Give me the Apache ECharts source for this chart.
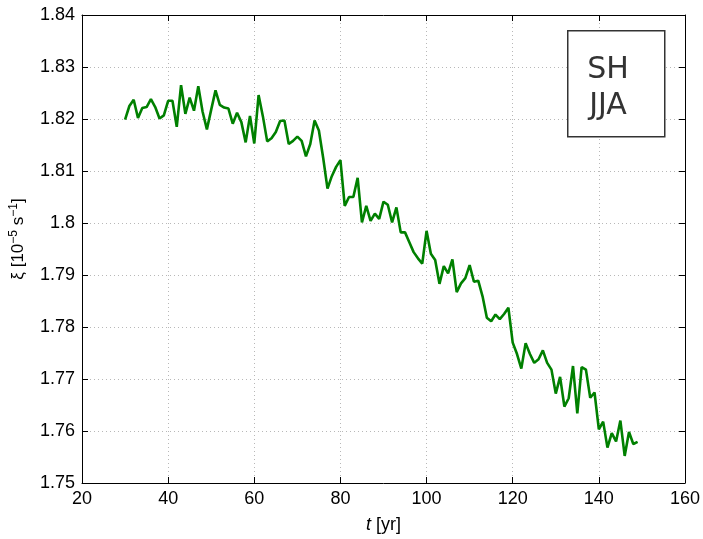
<!DOCTYPE html>
<html>
<head>
<meta charset="utf-8">
<script src="https://cdn.jsdelivr.net/npm/echarts@6/dist/echarts.min.js"></script>
<style>html,body{margin:0;padding:0;background:#fff}#c{width:703px;height:539px}</style>
</head>
<body>
<div id="c"></div>
<script>
var startYear = 30;
var xi = [
1.8199,1.8225,1.8237,1.8202,1.8221,1.8223,1.8238,1.8223,1.8201,1.8207,
1.8235,1.8235,1.8185,1.8265,1.8210,1.8241,1.8216,1.8263,1.8214,1.8180,
1.8218,1.8255,1.8227,1.8222,1.8220,1.8191,1.8212,1.8194,1.8155,1.8206,
1.8153,1.8246,1.8205,1.8157,1.8163,1.8175,1.8196,1.8197,1.8152,1.8158,
1.8166,1.8158,1.8128,1.8152,1.8197,1.8178,1.8125,1.8066,1.8090,1.8108,
1.8121,1.8033,1.8050,1.8050,1.8087,1.8001,1.8033,1.8004,1.8018,1.8008,
1.8041,1.8035,1.8001,1.8030,1.7982,1.7982,1.7963,1.7944,1.7932,1.7922,
1.7985,1.7941,1.7929,1.7883,1.7917,1.7903,1.7930,1.7867,1.7884,1.7894,
1.7919,1.7887,1.7889,1.7859,1.7818,1.7811,1.7824,1.7815,1.7825,1.7837,
1.7770,1.7748,1.7720,1.7769,1.7748,1.7731,1.7738,1.7755,1.7731,1.7718,
1.7672,1.7704,1.7647,1.7663,1.7725,1.7634,1.7723,1.7718,1.7664,1.7674,
1.7603,1.7618,1.7568,1.7596,1.7580,1.7620,1.7552,1.7598,1.7575,1.7579
];
var years = xi.map(function(_, i){ return startYear + i; });
var legendLines = ['SH', 'JJA'];
var xTicks = {min: 20, max: 160, interval: 20};
var yTicks = {min: 1.75, max: 1.84, interval: 0.01};

var pairs = years.map(function(y, i){ return [y, xi[i]]; });
var FONT = '"Liberation Sans", Arial, sans-serif';
var grid = {left: 82, right: 18, top: 15, bottom: 50};
var dotted = {show: true, lineStyle: {color: '#b8b8b8', type: [1, 3], width: 1}};

var chart = echarts.init(document.getElementById('c'), null, {renderer: 'canvas'});
chart.setOption({
  backgroundColor: '#fff',
  animation: false,
  grid: grid,
  xAxis: [{
    type: 'value', position: 'bottom', min: xTicks.min, max: xTicks.max, interval: xTicks.interval,
    axisLine: {show: true, onZero: false, lineStyle: {color: '#000', width: 1}},
    axisTick: {show: true, inside: true, length: 6, lineStyle: {color: '#000'}},
    axisLabel: {color: '#000', fontSize: 18, fontFamily: FONT, margin: 7},
    splitLine: dotted,
    name: '{i|t} [yr]', nameLocation: 'middle', nameGap: 33,
    nameTextStyle: {color: '#000', fontSize: 18, fontFamily: FONT,
      rich: {i: {fontStyle: 'italic', fontSize: 18, fontFamily: FONT, color: '#000'}}}
  }, {
    type: 'value', position: 'top', min: xTicks.min, max: xTicks.max, interval: xTicks.interval,
    axisLine: {show: true, onZero: false, lineStyle: {color: '#000', width: 1}},
    axisTick: {show: true, inside: true, length: 6, lineStyle: {color: '#000'}},
    axisLabel: {show: false}, splitLine: {show: false}
  }],
  yAxis: [{
    type: 'value', position: 'left', min: yTicks.min, max: yTicks.max, interval: yTicks.interval,
    axisLine: {show: true, onZero: false, lineStyle: {color: '#000', width: 1}},
    axisTick: {show: true, inside: true, length: 6, lineStyle: {color: '#000'}},
    axisLabel: {color: '#000', fontSize: 18, fontFamily: FONT, margin: 7,
      formatter: function(v){ return String(parseFloat(v.toFixed(2))); }},
    splitLine: dotted,
    name: '{g|ξ} [10{s|−5} s{s|−1}]', nameLocation: 'middle', nameGap: 54, nameRotate: 90,
    nameTextStyle: {color: '#000', fontSize: 17, fontFamily: FONT, padding: [0, 0, 0, 20],
      rich: {g: {fontSize: 17, fontFamily: FONT, color: '#000'},
             s: {fontSize: 12, fontFamily: FONT, color: '#000', verticalAlign: 'top', padding: [0,0,8,0]}}}
  }, {
    type: 'value', position: 'right', min: yTicks.min, max: yTicks.max, interval: yTicks.interval,
    axisLine: {show: true, onZero: false, lineStyle: {color: '#000', width: 1}},
    axisTick: {show: true, inside: true, length: 6, lineStyle: {color: '#000'}},
    axisLabel: {show: false}, splitLine: {show: false}
  }],
  series: [{
    type: 'line', xAxisIndex: 0, yAxisIndex: 0, data: pairs,
    showSymbol: false, smooth: false,
    lineStyle: {color: '#008000', width: 2.6}, itemStyle: {color: '#008000'}
  }],
  graphic: [{
    type: 'rect', left: 567, top: 30, z: 10,
    shape: {width: 97, height: 106},
    style: {fill: '#fff', stroke: '#333', lineWidth: 1.5}
  }, {
    type: 'text', x: 608, y: 70, z: 11,
    style: {text: legendLines[0], fill: '#333', font: '30px "DejaVu Sans", sans-serif', textAlign: 'center', textVerticalAlign: 'middle'}
  }, {
    type: 'text', x: 608, y: 106, z: 11,
    style: {text: legendLines[1], fill: '#333', font: '30px "DejaVu Sans", sans-serif', textAlign: 'center', textVerticalAlign: 'middle'}
  }]
});
</script>
</body>
</html>
